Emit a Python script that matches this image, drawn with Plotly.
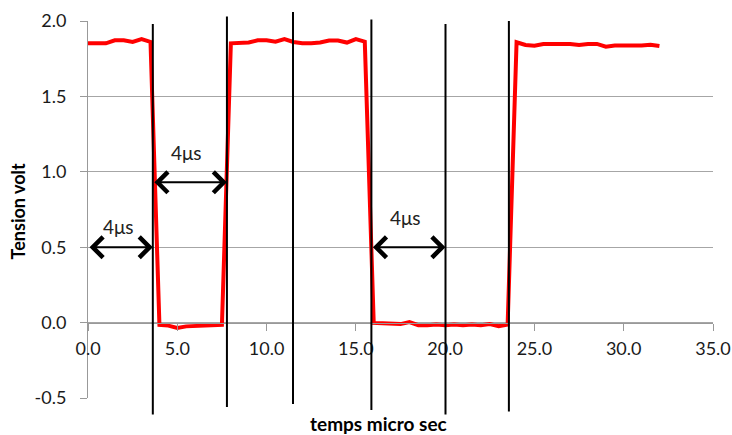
import plotly.graph_objects as go

# time (µs) and measured voltage (V)
t_us = [i * 0.5 for i in range(65)]
tension_v = [
    1.852, 1.852, 1.852, 1.872, 1.872, 1.861, 1.880, 1.861,      # 0.0 - 3.5
    -0.015, -0.020, -0.035, -0.025, -0.022, -0.022, -0.022, -0.015,  # 4.0 - 7.5
    1.852, 1.852, 1.857, 1.872, 1.872, 1.863, 1.880, 1.861,      # 8.0 - 11.5
    1.852, 1.852, 1.857, 1.870, 1.870, 1.857, 1.880, 1.863,      # 12.0 - 15.5
    -0.002, -0.005, -0.010, -0.010, 0.004, -0.017, -0.017, -0.013,   # 16.0 - 19.5
    -0.017, -0.013, -0.017, -0.013, -0.017, -0.010, -0.024, -0.013,  # 20.0 - 23.5
    1.859, 1.841, 1.836, 1.848, 1.848, 1.848, 1.848, 1.841,      # 24.0 - 27.5
    1.848, 1.848, 1.830, 1.837, 1.837, 1.832, 1.837, 1.843,      # 28.0 - 31.5
    1.834,                                                       # 32.0
]

# vertical marker lines (x in µs, top/bottom in volts)
marker_x = [3.63, 7.78, 11.48, 15.87, 20.02, 23.57]
marker_top = [1.98, 2.03, 2.06, 2.01, 1.98, 2.00]
marker_bottom = [-0.61, -0.56, -0.54, -0.58, -0.61, -0.59]

# double arrows: start x, end x, y ; labels
arrow_x0 = [0.0, 3.63, 15.87]
arrow_x1 = [3.63, 7.78, 20.02]
arrow_y = [0.50, 0.93, 0.50]
label_x = [1.68, 5.50, 17.78]
label_y = [0.64, 1.13, 0.70]
label_text = ["4μs", "4μs", "4μs"]

# axis ticks
x_tickvals = [0, 5, 10, 15, 20, 25, 30, 35]
x_ticktext = ["0.0", "5.0", "10.0", "15.0", "20.0", "25.0", "30.0", "35.0"]
y_tickvals = [-0.5, 0.0, 0.5, 1.0, 1.5, 2.0]
y_ticktext = ["-0.5", "0.0", "0.5", "1.0", "1.5", "2.0"]

x_range = [0, 35]
y_range = [-0.5, 2.0]

FONT = "Lato"

def to_paper_y(v):
    return (v - y_range[0]) / (y_range[1] - y_range[0])

fig = go.Figure()
fig.add_trace(go.Scatter(
    x=t_us, y=tension_v, mode="lines",
    line=dict(color="#FF0000", width=4),
    showlegend=False, hoverinfo="skip",
))

shapes = []
for xv, top, bot in zip(marker_x, marker_top, marker_bottom):
    shapes.append(dict(
        type="line", xref="x", yref="paper",
        x0=xv, x1=xv, y0=to_paper_y(bot), y1=to_paper_y(top),
        line=dict(color="black", width=2), layer="above",
    ))

annotations = []
for x0, x1, yv in zip(arrow_x0, arrow_x1, arrow_y):
    annotations.append(dict(
        x=x1, y=yv, ax=x0, ay=yv, xref="x", yref="y", axref="x", ayref="y",
        text="", showarrow=True, arrowhead=4, startarrowhead=4,
        arrowside="end+start", arrowsize=2.0, startarrowsize=2.0,
        arrowwidth=2, arrowcolor="black", standoff=0, startstandoff=0,
    ))
for xv, yv, tx in zip(label_x, label_y, label_text):
    annotations.append(dict(
        x=xv, y=yv, xref="x", yref="y", text=tx, showarrow=False,
        font=dict(family=FONT, size=19, color="#222"),
        xanchor="center", yanchor="middle",
    ))

annotations.append(dict(
    x=(378 - 88) / 624.7, y=-0.067, xref="paper", yref="paper",
    text="<b>temps micro sec</b>", showarrow=False, borderpad=0,
    font=dict(family=FONT, size=19, color="black"),
    xanchor="center", yanchor="middle",
))
annotations.append(dict(
    x=-0.112, y=0.495, xref="paper", yref="paper",
    text="<b>Tension volt</b>", showarrow=False, textangle=-90,
    font=dict(family=FONT, size=18, color="black"),
    xanchor="center", yanchor="middle",
))

fig.update_layout(
    width=732, height=435,
    margin=dict(l=88, r=19, t=21, b=37, pad=0, autoexpand=False),
    paper_bgcolor="white", plot_bgcolor="white",
    shapes=shapes, annotations=annotations,
    font=dict(family=FONT, size=18, color="#222"),
    xaxis=dict(
        range=x_range, tickmode="array", tickvals=x_tickvals, ticktext=x_ticktext,
        showgrid=False, zeroline=False, automargin=False,
        showline=True, linecolor="#999", linewidth=1,
        ticks="outside", ticklen=7, tickcolor="#999",
        anchor="free", position=to_paper_y(0.0),
        ticklabelstandoff=3,
        tickfont=dict(family=FONT, size=18, color="#1a1a1a"),
    ),
    yaxis=dict(
        range=y_range, tickmode="array", tickvals=y_tickvals, ticktext=y_ticktext,
        showgrid=True, gridcolor="#A6A6A6", gridwidth=1, zeroline=False,
        automargin=False,
        showline=True, linecolor="#999", linewidth=1,
        ticks="outside", ticklen=7, tickcolor="#999",
        ticklabelstandoff=10,
        tickfont=dict(family=FONT, size=18, color="#1a1a1a"),
    ),
)

fig.write_html("out.html", post_script="document.body.style.margin='0px';",
               config={"displayModeBar": False})
